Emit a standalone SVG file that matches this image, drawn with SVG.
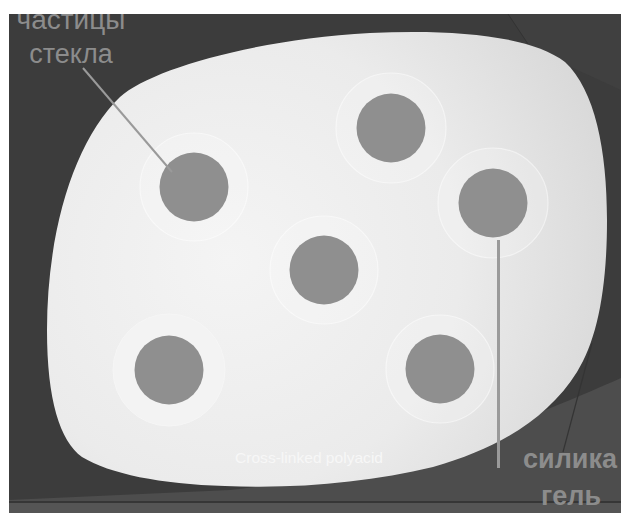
<svg xmlns="http://www.w3.org/2000/svg" width="621" height="513" viewBox="0 0 621 513">
  <defs>
    <radialGradient id="blobGrad" gradientUnits="userSpaceOnUse" cx="230" cy="260" r="420">
      <stop offset="0" stop-color="#f4f4f4"/>
      <stop offset="0.55" stop-color="#ebebeb"/>
      <stop offset="1" stop-color="#d6d6d6"/>
    </radialGradient>
    <style>
      .halo { fill: #ffffff; fill-opacity: 0.2; stroke: #ffffff; stroke-opacity: 0.5; stroke-width: 1.2; }
      .halo-strong { fill: #f3f3f3; fill-opacity: 0.9; stroke: #f6f6f6; stroke-width: 1; }
      .core { fill: #8f8f8f; }
      .lbl { font-family: "Liberation Sans", Arial, sans-serif; fill: #8c8c8c; text-anchor: middle; }
      .conn { stroke: #9a9a9a; fill: none; stroke-linecap: butt; }
    </style>
  </defs>

  <!-- page background -->
  <rect x="0" y="0" width="621" height="513" fill="#ffffff"/>
  <rect x="9" y="14" width="612" height="499" fill="#3c3c3c"/>
  <polygon points="508,14 621,14 621,90 560,62 528,44" fill="#404040"/>
  <line x1="508" y1="14" x2="528" y2="44" stroke="#333333" stroke-width="1"/>
  <path d="M621,378 C 560,405 420,468 230,490 L 9,500 L 9,513 L 621,513 Z" fill="#4d4d4d"/>
  <line x1="592" y1="343" x2="563" y2="452" stroke="#343434" stroke-width="1.2"/>
  <rect x="9" y="501" width="612" height="2" fill="#363636"/>
  <rect x="9" y="503" width="612" height="10" fill="#555555"/>

  <!-- polymer matrix -->
  <g id="matrix">
    <path d="M 47,330 C 47,230 75,140 120,97 C 150,70 250,40 370,33 C 450,29 530,35 565,62 C 595,90 607,150 607,220 C 607,290 597,340 577,372 C 548,418 500,448 433,467 C 370,482 300,489 225,486 C 160,484 110,474 82,457 C 60,441 47,400 47,330 Z" fill="url(#blobGrad)"/>
    <text x="235" y="463" font-family="'Liberation Sans', Arial, sans-serif" font-size="15" fill="#f7f7f7" textLength="148" lengthAdjust="spacingAndGlyphs">Cross-linked polyacid</text>
  </g>

  <!-- particles -->
  <g id="particle-1">
    <circle class="halo" cx="194" cy="187" r="54"/>
    <circle class="core" cx="194" cy="187" r="34.5"/>
  </g>
  <g id="particle-2">
    <circle class="halo" cx="391" cy="128" r="55"/>
    <circle class="core" cx="391" cy="128" r="34.5"/>
  </g>
  <g id="particle-3">
    <circle class="halo" cx="493" cy="203" r="55"/>
    <circle class="core" cx="493" cy="203" r="34.5"/>
  </g>
  <g id="particle-4">
    <circle class="halo" cx="324" cy="270" r="54"/>
    <circle class="core" cx="324" cy="270" r="34.5"/>
  </g>
  <g id="particle-5">
    <circle class="halo-strong" cx="169" cy="370" r="56"/>
    <circle class="core" cx="169" cy="370" r="34.5"/>
  </g>
  <g id="particle-6">
    <circle class="halo" cx="440" cy="369" r="54"/>
    <circle class="core" cx="440" cy="369" r="34.5"/>
  </g>

  <!-- labels -->
  <g id="label-glass">
    <text class="lbl" x="71" y="29" font-size="28">частицы</text>
    <text class="lbl" x="71" y="63" font-size="27">стекла</text>
  </g>
  <g id="label-silica">
    <text class="lbl" x="570" y="468" font-size="27" font-weight="bold" fill="#8e8e8e">силика</text>
    <text class="lbl" x="571" y="505" font-size="27" font-weight="bold" fill="#8e8e8e">гель</text>
  </g>

  <!-- connectors -->
  <g id="connectors">
    <line class="conn" x1="83" y1="68" x2="172" y2="172" stroke-width="2"/>
    <line class="conn" x1="498.5" y1="240" x2="498.5" y2="468" stroke-width="3" stroke="#8c8c8c"/>
  </g>

  <!-- white page margin (crops the top label like the photo) -->
  <rect x="0" y="0" width="621" height="14" fill="#ffffff"/>
</svg>
